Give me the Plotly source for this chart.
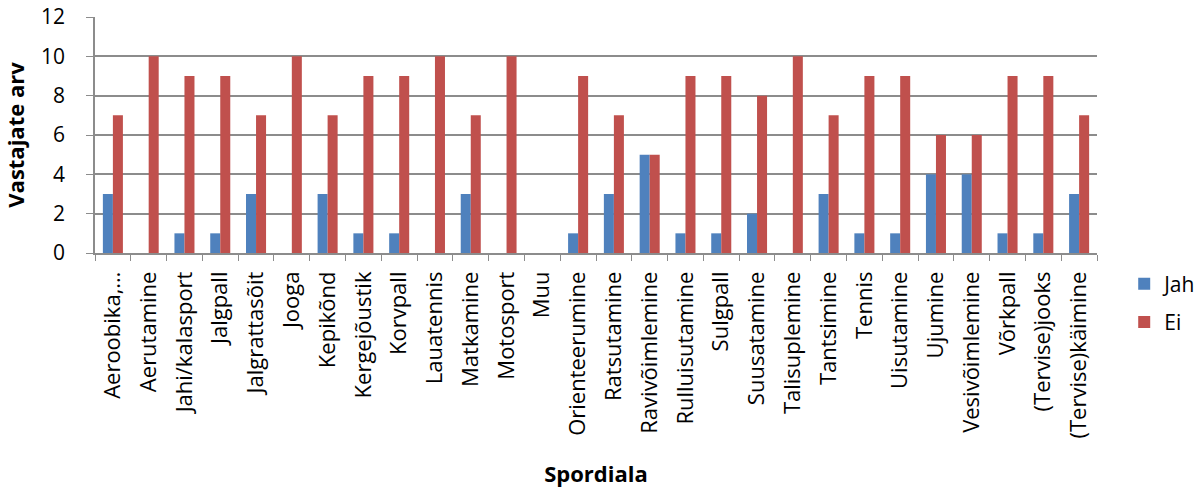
import plotly.graph_objects as go

categories = ["Aeroobika,…", "Aerutamine", "Jahi/kalasport", "Jalgpall", "Jalgrattasõit",
              "Jooga", "Kepikõnd", "Kergejõustik", "Korvpall", "Lauatennis", "Matkamine",
              "Motosport", "Muu", "Orienteerumine", "Ratsutamine", "Ravivõimlemine",
              "Rulluisutamine", "Sulgpall", "Suusatamine", "Talisuplemine", "Tantsimine",
              "Tennis", "Uisutamine", "Ujumine", "Vesivõimlemine", "Võrkpall",
              "(Tervise)jooks", "(Tervise)käimine"]
jah = [3, 0, 1, 1, 3, 0, 3, 1, 1, 0, 3, 0, 0, 1, 3, 5, 1, 1, 2, 0, 3, 1, 1, 4, 4, 1, 1, 3]
ei = [7, 10, 9, 9, 7, 10, 7, 9, 9, 10, 7, 10, 0, 9, 7, 5, 9, 9, 8, 10, 7, 9, 9, 6, 6, 9, 9, 7]
y_ticks = [0, 2, 4, 6, 8, 10, 12]

font_family = "Open Sans, Noto Sans, sans-serif"
grid = "#8c8c8c"

fig = go.Figure()
fig.add_trace(go.Bar(name="Jah", x=categories, y=jah, legendgroup="a",
                     marker=dict(color="#4F81BD", line=dict(width=0))))
fig.add_trace(go.Bar(name="Ei", x=categories, y=ei, legendgroup="b",
                     marker=dict(color="#C0504D", line=dict(width=0))))

fig.update_layout(
    width=1203, height=491,
    margin=dict(l=95, r=106, t=17, b=238, autoexpand=False),
    paper_bgcolor="white", plot_bgcolor="white",
    barmode="group", bargap=0.44, bargroupgap=0,
    font=dict(family=font_family, color="black", size=20),
    showlegend=True,
    legend=dict(x=1.105, y=-0.212, xanchor="right", yanchor="middle",
                font=dict(size=21), tracegroupgap=8, itemwidth=30),
)
fig.update_xaxes(
    type="category", tickangle=-90, tickson="boundaries", automargin=False,
    ticks="outside", ticklen=6, tickcolor=grid, ticklabelstandoff=8,
    ticklabeloverflow="allow",
    showline=True, linecolor=grid, linewidth=1.5,
    showgrid=False, tickfont=dict(size=22),
    title=dict(text="<b>Spordiala</b>", font=dict(size=22), standoff=29),
)
fig.update_yaxes(
    range=[0, 12], tickvals=y_ticks, ticks="outside", ticklen=7, tickcolor=grid,
    automargin=False, ticklabelstandoff=17, ticklabeloverflow="allow",
    showline=True, linecolor=grid, linewidth=1.5,
    showgrid=True, gridcolor=grid, gridwidth=1.5, zeroline=False,
    tickfont=dict(size=21),
    title=dict(text="<b>Vastajate arv</b>", font=dict(size=22), standoff=22),
)

fig.write_html("out.html", config={"displayModeBar": False},
               post_script="document.body.style.margin='0';")
